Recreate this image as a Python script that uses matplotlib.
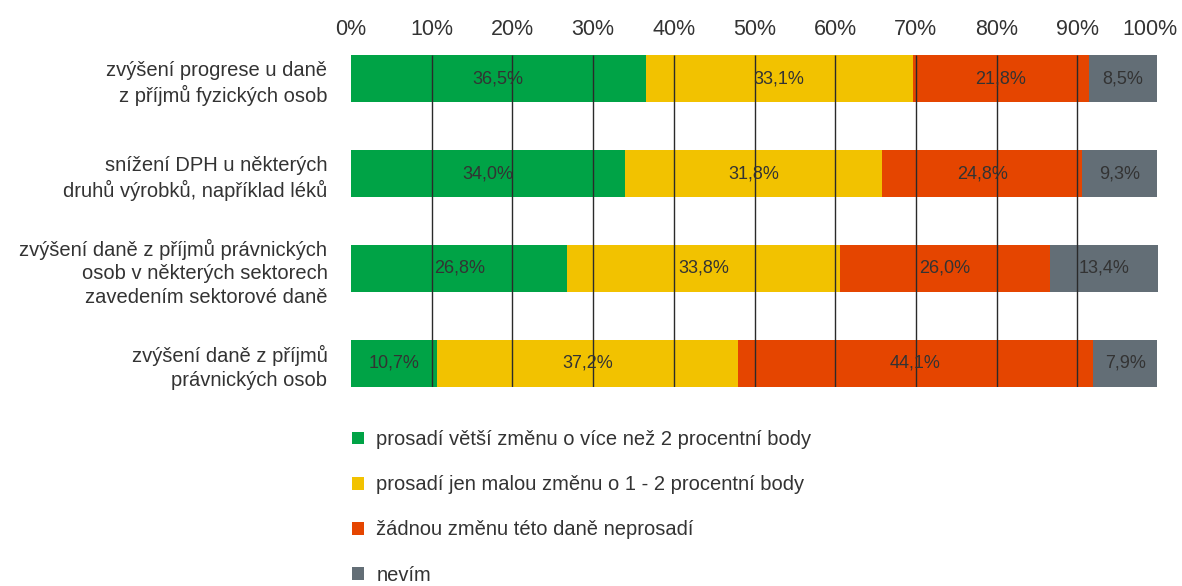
import numpy as np
import matplotlib
matplotlib.use("Agg")
from matplotlib import pyplot as plt
from matplotlib.transforms import ScaledTranslation

plt.rcParams["font.family"] = ["Liberation Sans", "DejaVu Sans"]

TXT = "#333333"

categories = ["zvýšení progrese u daně\nz příjmů fyzických osob",
              "snížení DPH u některých\ndruhů výrobků, například léků",
              "zvýšení daně z příjmů právnických\nosob v některých sektorech\nzavedením sektorové daně",
              "zvýšení daně z příjmů\nprávnických osob"]
series_names = ["prosadí větší změnu o více než 2 procentní body",
                "prosadí jen malou změnu o 1 - 2 procentní body",
                "žádnou změnu této daně neprosadí",
                "nevím"]
big_change = [36.5, 34.0, 26.8, 10.7]
small_change = [33.1, 31.8, 33.8, 37.2]
no_change = [21.8, 24.8, 26.0, 44.1]
dont_know = [8.5, 9.3, 13.4, 7.9]
xticks = [0, 10, 20, 30, 40, 50, 60, 70, 80, 90, 100]
colors = ["#00A346", "#F2C200", "#E54500", "#636E76"]

data = [big_change, small_change, no_change, dont_know]
y = np.arange(len(categories))
H = 0.5

fig = plt.figure(figsize=(11.82, 5.86), dpi=100)
# axes placed in pixel terms of the reference
top_px, bot_px = 40, 387
ax = fig.add_axes([351 / 1182, 1 - bot_px / 586, 807 / 1182, (bot_px - top_px) / 586])

left = np.zeros(len(categories))
for vals, col, name in zip(data, colors, series_names):
    vals = np.array(vals)
    ax.barh(y, vals, left=left, height=H, color=col, label=name, zorder=2)
    for yi, l, v in zip(y, left, vals):
        ax.text(l + v / 2, yi, "{:.1f}%".format(v).replace(".", ","),
                ha="center", va="center", fontsize=13, color=TXT, zorder=4)
    left += vals

# vertical gridlines drawn over the bars
ax.vlines(xticks[1:-1], -H / 2, len(categories) - 1 + H / 2,
          color="#2a2a2a", linewidth=1, zorder=3)

ax.set_xlim(0, 100)
unit_px = 95
ax.set_ylim(len(categories) - 1 + H / 2, -H / 2 - (55 - top_px) / unit_px)
ax.xaxis.tick_top()
ax.set_xticks(xticks)
ax.set_xticklabels(["{}%".format(t) for t in xticks], fontsize=15.5, color=TXT)
ax.set_yticks(y)
ax.set_yticklabels(categories, fontsize=14.5, color=TXT, linespacing=1.3)
ax.tick_params(axis="both", length=0)
ax.tick_params(axis="x", pad=0)
ax.tick_params(axis="y", pad=17)
for s in ax.spines.values():
    s.set_visible(False)

# nudge the last tick label so it stays inside the figure
lab = ax.get_xticklabels()[-1]
lab.set_transform(lab.get_transform() + ScaledTranslation(-8 / 100, 0, fig.dpi_scale_trans))

fig.legend(loc="upper left", bbox_to_anchor=(344 / 1182, 1 - 422 / 586),
           frameon=False, fontsize=14.5, labelcolor=TXT,
           handlelength=0.6, handleheight=0.6, handletextpad=0.6,
           labelspacing=1.3, borderaxespad=0)

fig.savefig("out.png", dpi=100)
